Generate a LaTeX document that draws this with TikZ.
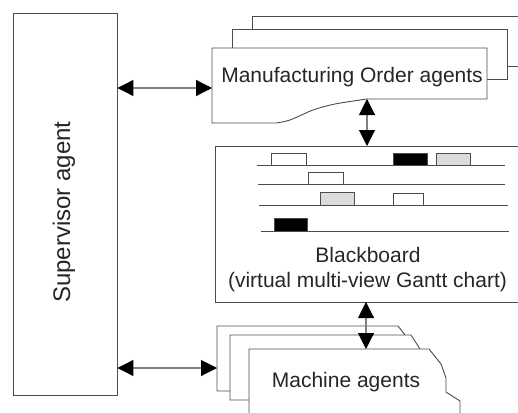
\documentclass[tikz,border=0pt]{standalone}
\usepackage{fontspec}
\setmainfont{Liberation Sans}
\usetikzlibrary{arrows.meta}
\definecolor{linegray}{gray}{0.3}
\definecolor{conngray}{gray}{0.5}
\definecolor{barfill}{gray}{0.86}
\begin{document}
\begin{tikzpicture}[x=1pt,y=-1pt,
  box/.style={draw=linegray, line width=0.9pt, line join=miter},
  conn/.style={draw=conngray, line width=1.1pt,
    {Triangle[length=16pt,width=16pt,color=black]}-{Triangle[length=16pt,width=16pt,color=black]}},
  lbl/.style={font=\fontsize{21}{25}\selectfont, inner sep=0pt, anchor=base, text=black!85},
  bar/.style={draw=linegray, line width=0.8pt},
]
\useasboundingbox (0,0) rectangle (518,412);
\clip (0,0) rectangle (518,412);

% Supervisor
\node[box, minimum width=104pt, minimum height=382pt, inner sep=0pt] (sup) at (65,204) {};
\node[font=\fontsize{24}{28}\selectfont, inner sep=0pt, rotate=90, text=black!85] (suptext) at (64,212) {Supervisor agent};

% Manufacturing Order agents stack
\draw[box] (252,29) -- (252,16) -- (530,16);
\draw[box] (507,66) -- (530,66);
\draw[box] (232,48) -- (232,29) -- (507,29) -- (507,79) -- (487,79);
\draw[box, fill=white] (212,48) -- (487,48) -- (487,99) -- (367,99)
  -- plot[smooth, tension=0.5] coordinates {(367,99) (335,104) (313,110) (290,120) (276,123)}
  -- (212,123) -- cycle;
\node[lbl] (motext) at (352,82) {Manufacturing Order agents};
\coordinate (moW) at (212,88);
\coordinate (moS) at (367,99);

% Blackboard
\draw[box] (530,146) -- (215,146) -- (215,302) -- (530,302);
\coordinate (bbN) at (367,146);
\coordinate (bbS) at (366,302);
\draw[bar] (257,165) -- (505,165);
\draw[bar] (258,184) -- (505,184);
\draw[bar] (259,205) -- (508,205);
\draw[bar] (261,231) -- (509,231);
\draw[bar, fill=white] (271,153) rectangle (306,165);
\draw[bar, fill=black] (393,153) rectangle (427,165);
\draw[bar, fill=barfill] (436,153) rectangle (470,165);
\draw[bar, fill=white] (308,172) rectangle (343,184);
\draw[bar, fill=barfill] (320,192) rectangle (354,205);
\draw[bar, fill=white] (393,193) rectangle (423,205);
\draw[bar, fill=black] (274,218) rectangle (307,231);
\node[lbl] (bbtitle) at (368,262) {Blackboard};
\node[lbl] (bbsub) at (367.5,287) {(virtual multi-view Gantt chart)};

% Machine agents stack
\draw[box] (230,391) -- (217,391) -- (217,326) -- (398,326) -- (405,335);
\draw[box] (249,400) -- (230,400) -- (230,335) -- (411,335) -- (420,349);
\draw[box, fill=white] (249,420) -- (249,349) -- (429,349) -- (441,364) -- (446,378)
  -- (446,392) -- (460,401) -- (460,420);
\node[lbl] (matext) at (346,387) {Machine agents};
\coordinate (maN) at (366,349);
\coordinate (maW) at (217,368);

% Connectors
\draw[conn] (sup.east |- moW) -- (moW);
\draw[conn] (sup.east |- maW) -- (maW);
\draw[conn] (moS) -- (bbN);
\draw[conn] (bbS) -- (maN);
\end{tikzpicture}
\end{document}
